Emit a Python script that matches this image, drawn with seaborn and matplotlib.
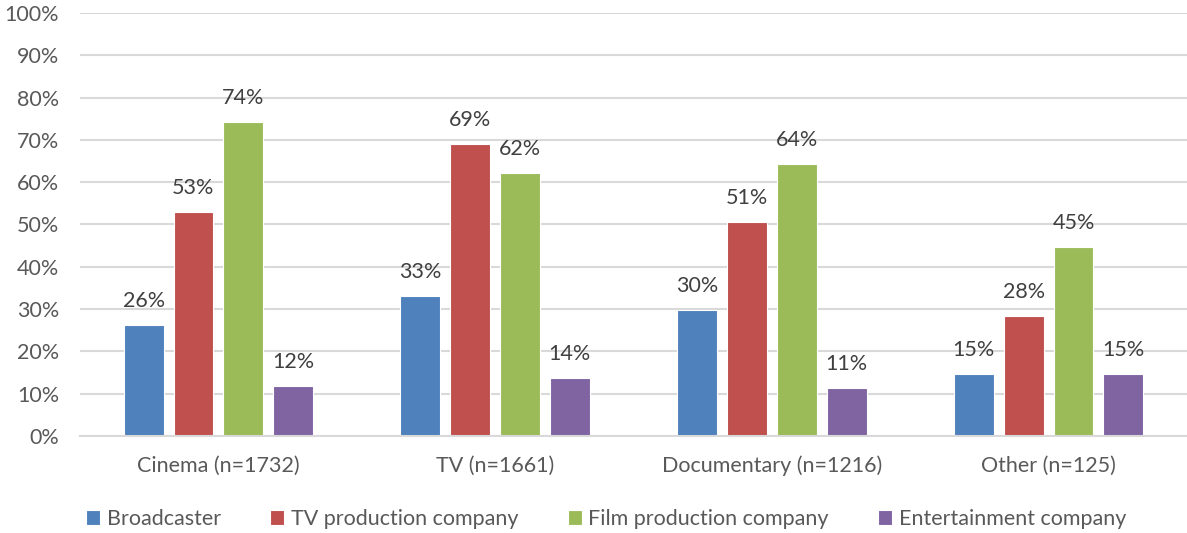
import matplotlib
matplotlib.use("Agg")
import matplotlib.pyplot as plt
import seaborn as sns
import pandas as pd

# Share of respondents (%) by genre and company type
categories = ["Cinema (n=1732)", "TV (n=1661)", "Documentary (n=1216)", "Other (n=125)"]
series = ["Broadcaster", "TV production company", "Film production company", "Entertainment company"]
broadcaster = [26.3, 33.1, 29.9, 14.6]
tv_production = [53.0, 69.1, 50.6, 28.3]
film_production = [74.2, 62.1, 64.3, 44.7]
entertainment = [11.9, 13.7, 11.4, 14.7]
y_ticks = [0, 10, 20, 30, 40, 50, 60, 70, 80, 90, 100]

colors = ["#4F81BD", "#C0504D", "#9BBB59", "#8064A2"]

rows = []
for name, vals in zip(series, [broadcaster, tv_production, film_production, entertainment]):
    for cat, v in zip(categories, vals):
        rows.append({"category": cat, "company": name, "share": v})
df = pd.DataFrame(rows)

sns.set_theme(style="white")
plt.rcParams["font.family"] = ["Lato", "DejaVu Sans"]
FS = 15.5

fig = plt.figure(figsize=(11.87, 5.33), dpi=100)
ax = fig.add_axes([80 / 1187, 1 - 436 / 533, 1 - 80 / 1187, (436 - 13) / 533])

sns.barplot(data=df, x="category", y="share", hue="company", order=categories,
            hue_order=series, palette=colors, width=0.72, gap=0.2,
            edgecolor="#FFFFFF", linewidth=0.8, saturation=1, ax=ax, legend=True)

ax.set_ylim(0, 100)
ax.set_xlim(-0.5, 3.5)
ax.set_yticks(y_ticks)
ax.set_yticklabels([f"{t}%" for t in y_ticks])
ax.set_xlabel("")
ax.set_ylabel("")
ax.yaxis.grid(True, color="#D9D9D9", linewidth=1.5)
ax.set_axisbelow(True)
for s in ["left", "right", "top"]:
    ax.spines[s].set_visible(False)
ax.spines["bottom"].set_color("#D9D9D9")
ax.spines["bottom"].set_linewidth(1.5)
ax.tick_params(axis="y", length=0, pad=15, labelsize=FS, labelcolor="#595959")
ax.tick_params(axis="x", length=0, pad=14, labelsize=FS, labelcolor="#595959")

# value labels above each bar
for container in ax.containers:
    ax.bar_label(container, labels=[f"{round(v.get_height())}%" for v in container],
                 padding=10, fontsize=FS, color="#404040")

handles, labels = ax.get_legend_handles_labels()
ax.get_legend().remove()
fig.legend(handles, labels, loc="center", bbox_to_anchor=(606 / 1187, 14 / 533),
           ncol=4, frameon=False, fontsize=FS, labelcolor="#595959",
           handlelength=0.65, handleheight=0.65, handletextpad=0.3, columnspacing=2.3)

fig.savefig("out.png", dpi=100)
